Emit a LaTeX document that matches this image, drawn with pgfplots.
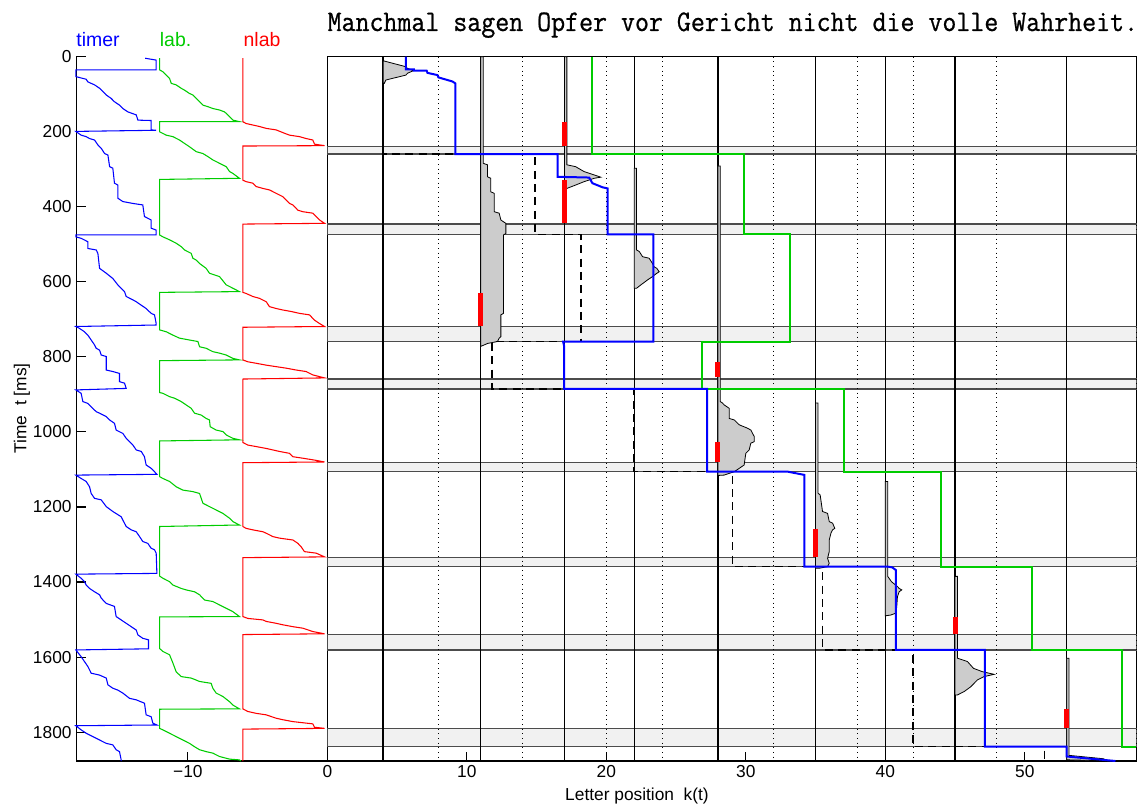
\documentclass[border=0pt]{standalone}
\usepackage{graphicx}
\usepackage{pgfplots}
\pgfplotsset{compat=1.18}
\usepackage{fontspec}
\setmainfont{Liberation Sans}
\newfontfamily\monofont[FakeBold=0.8]{Latin Modern Mono}
\definecolor{mgreen}{RGB}{0,204,0}
\definecolor{bandfill}{gray}{0.945}
\definecolor{bandedge}{gray}{0.3}
\definecolor{histfill}{gray}{0.8}

\begin{document}
\begin{tikzpicture}
\path[use as bounding box] (-57.2pt,-33pt) rectangle (799.3pt,570.75pt);

% ---------------- left panel: timer, labile and non-labile stages
\begin{axis}[
  at={(0,0)}, anchor=south west,
  scale only axis, width=188.3pt, height=528.2pt,
  xmin=-18, xmax=0, ymin=0, ymax=1877, y dir=reverse,
  axis x line*=bottom, axis y line*=left,
  axis line style={line width=0.9pt},
  tick align=inside, major tick length=7pt,
  tick style={line width=0.8pt, black},
  xtick={-10}, xticklabels={−10},
  ytick={0,200,400,600,800,1000,1200,1400,1600,1800},
  yticklabels={0,200,400,600,800,1000,1200,1400,1600,1800},
  tick label style={font=\fontsize{13}{15}\selectfont},
  clip=false,
]
% timer
\addplot[blue, line width=0.8pt] coordinates {
(-13.06,4) (-12.27,9) (-12.27,35) (-18.03,35)
(-18.03,53) (-17.29,60) (-17.17,67) (-16.69,75) (-16.33,84) (-16.09,93) (-15.85,102) (-15.5,111) (-15.26,120) (-14.9,129) (-14.66,138) (-14.3,147) (-13.7,155) (-13.58,169) (-12.63,170) (-12.63,195) (-12.27,196) (-18.03,199)
(-17.65,209) (-17.29,213) (-17.05,218) (-16.69,222) (-16.45,235) (-16.21,244) (-15.97,258) (-15.73,262) (-15.61,293) (-15.38,297) (-15.26,337) (-15.02,342) (-15.02,377) (-14.66,386) (-13.94,391) (-13.23,395) (-13.11,426) (-12.63,435) (-12.63,457) (-12.27,462) (-12.27,475) (-18.03,475)
(-18.03,480) (-17.65,484) (-17.17,493) (-17.17,511) (-16.57,515) (-16.45,524) (-16.33,564) (-15.85,577) (-15.38,591) (-15.02,608) (-14.54,626) (-14.42,639) (-13.94,648) (-13.7,653) (-13.35,662) (-12.99,671) (-12.63,684) (-12.39,688) (-12.27,711) (-12.27,715) (-18.03,719)
(-17.77,724) (-17.41,733) (-17.17,742) (-16.93,755) (-16.69,768) (-16.57,777) (-16.33,782) (-16.21,795) (-15.85,799) (-15.85,835) (-15.38,839) (-14.9,844) (-14.9,866) (-14.54,870) (-14.42,884) (-18.03,888)
(-17.65,897) (-17.53,919) (-17.17,924) (-16.93,933) (-16.57,946) (-16.33,950) (-15.85,959) (-15.61,968) (-15.26,977) (-15.14,995) (-14.66,1004) (-14.42,1017) (-14.18,1026) (-13.94,1035) (-13.7,1048) (-13.34,1052) (-13.11,1066) (-12.99,1088) (-12.63,1097) (-12.39,1106) (-12.22,1113) (-18.03,1115)
(-17.65,1124) (-17.29,1132) (-17.05,1146) (-16.93,1164) (-16.69,1177) (-16.21,1181) (-15.85,1199) (-15.38,1212) (-14.78,1226) (-14.66,1235) (-14.42,1252) (-14.06,1261) (-13.7,1266) (-13.46,1279) (-13.23,1292) (-12.87,1297) (-12.63,1310) (-12.39,1314) (-12.27,1323) (-12.22,1377) (-18.03,1379)
(-17.65,1390) (-17.41,1399) (-17.29,1408) (-17.05,1417) (-16.69,1426) (-16.33,1434) (-16.21,1443) (-15.85,1457) (-15.26,1465) (-15.14,1492) (-14.78,1501) (-14.42,1510) (-14.06,1519) (-13.7,1528) (-13.58,1541) (-13.23,1550) (-12.82,1554) (-12.82,1578) (-18.03,1581)
(-17.65,1599) (-17.41,1612) (-17.17,1625) (-16.93,1643) (-16.33,1648) (-15.85,1656) (-15.73,1674) (-15.38,1683) (-15.02,1688) (-14.66,1696) (-14.18,1710) (-13.7,1714) (-13.11,1723) (-12.99,1754) (-12.63,1759) (-12.51,1776) (-12.22,1781) (-18.03,1783)
(-17.65,1794) (-17.29,1803) (-16.81,1812) (-16.33,1821) (-15.85,1830) (-15.38,1834) (-15.14,1847) (-14.9,1852) (-14.78,1874) (-14.78,1877)
};
% labile stage
\addplot[mgreen, line width=0.8pt] coordinates {
(-12.03,4) (-12.03,35) (-11.79,40) (-11.31,58) (-11.19,71) (-10.84,75) (-10.48,84) (-10.24,89) (-9.88,98) (-9.64,102) (-9.16,120) (-8.92,129) (-8.57,133) (-8.21,138) (-7.73,142) (-7.37,147) (-7.13,155) (-6.77,169) (-6.3,173) (-12.03,173)
(-12.03,200) (-11.55,209) (-11.07,213) (-10.6,222) (-10.24,231) (-9.88,240) (-9.4,253) (-8.92,258) (-8.57,266) (-8.21,275) (-7.73,284) (-7.25,293) (-7.01,306) (-6.77,311) (-6.3,324) (-12.03,327)
(-12.03,475) (-11.79,480) (-11.31,488) (-10.84,497) (-10.48,506) (-10.24,515) (-9.76,524) (-9.64,537) (-9.4,542) (-9.16,551) (-8.69,564) (-8.45,577) (-7.73,586) (-7.25,608) (-6.77,617) (-6.3,626) (-12.03,628)
(-12.03,728) (-11.55,733) (-11.07,742) (-10.6,750) (-9.88,755) (-9.28,759) (-9.16,773) (-8.69,777) (-8.21,786) (-7.73,790) (-7.25,795) (-6.77,804) (-6.3,808) (-12.03,810)
(-12.03,895) (-11.79,897) (-11.31,906) (-10.96,910) (-10.48,919) (-10.12,928) (-9.76,937) (-9.52,950) (-9.04,955) (-8.69,964) (-8.45,968) (-8.4,986) (-7.97,995) (-7.49,999) (-7.25,1008) (-6.77,1017) (-6.3,1021) (-12.03,1024)
(-12.03,1119) (-11.79,1124) (-11.31,1132) (-10.84,1146) (-10.36,1155) (-9.64,1159) (-9.16,1164) (-8.92,1190) (-8.45,1199) (-7.97,1208) (-7.49,1217) (-7.01,1230) (-6.77,1239) (-6.3,1248) (-12.03,1252)
(-12.03,1384) (-11.79,1390) (-11.31,1399) (-11.07,1408) (-10.48,1417) (-10.12,1421) (-9.52,1426) (-9.16,1434) (-8.8,1448) (-8.21,1452) (-7.73,1461) (-7.25,1470) (-6.77,1479) (-6.3,1492) (-12.03,1493)
(-12.03,1577) (-11.79,1585) (-11.31,1594) (-11.07,1616) (-10.84,1639) (-10.48,1652) (-9.76,1656) (-9.16,1665) (-8.33,1670) (-8.21,1683) (-7.97,1696) (-7.49,1705) (-7.01,1719) (-6.77,1728) (-6.3,1738) (-12.03,1739)
(-12.03,1790) (-11.79,1794) (-11.31,1803) (-10.84,1812) (-10.36,1821) (-9.88,1830) (-9.52,1839) (-9.16,1847) (-8.69,1852) (-8.21,1856) (-7.73,1865) (-7.01,1872) (-6.3,1874) (-6.2,1877)
};
% non-labile stage
\addplot[red, line width=0.8pt] coordinates {
(-6.06,4) (-6.06,173) (-5.82,178) (-5.34,182) (-4.86,186) (-4.38,191) (-3.67,195) (-3.07,204) (-2.71,209) (-1.99,213) (-1.52,218) (-1.04,222) (-0.92,233) (-0.2,237) (-6.06,238)
(-6.06,329) (-5.82,333) (-5.34,337) (-5.1,346) (-4.62,351) (-4.15,355) (-3.67,364) (-3.19,373) (-2.95,382) (-2.71,391) (-2.47,395) (-2.11,409) (-1.76,413) (-1.04,417) (-0.56,435) (-0.2,444) (-6.06,446)
(-6.06,628) (-5.82,631) (-5.34,639) (-4.86,644) (-4.38,653) (-4.15,666) (-3.67,671) (-3.19,675) (-2.59,679) (-1.99,684) (-1.28,688) (-0.92,702) (-0.56,711) (-0.2,719) (-6.06,721)
(-6.06,808) (-5.7,813) (-5.1,817) (-4.38,822) (-3.67,826) (-2.95,830) (-2.23,835) (-1.52,839) (-1.04,848) (-0.2,856) (-6.06,859)
(-6.06,1028) (-5.7,1035) (-5.1,1039) (-4.38,1044) (-3.9,1048) (-3.43,1052) (-2.71,1057) (-2.47,1066) (-1.76,1070) (-0.92,1075) (-0.2,1080) (-6.06,1082)
(-6.06,1252) (-5.82,1257) (-5.34,1261) (-4.62,1266) (-4.38,1270) (-3.9,1279) (-3.43,1283) (-2.47,1288) (-2.11,1297) (-1.88,1306) (-1.64,1319) (-0.8,1323) (-0.2,1333) (-6.06,1335)
(-6.06,1492) (-5.7,1497) (-4.62,1501) (-4.38,1505) (-3.67,1510) (-3.19,1514) (-2.47,1519) (-1.76,1523) (-1.04,1532) (-0.2,1538) (-6.06,1540)
(-6.06,1738) (-5.7,1745) (-5.1,1750) (-4.38,1754) (-3.67,1763) (-3.19,1767) (-2.47,1772) (-1.76,1775) (-1.04,1778) (-0.92,1787) (-0.2,1790) (-6.06,1792)
(-6.06,1877)
};
\node[anchor=base, blue, font=\fontsize{14.6}{16}\selectfont, yshift=7.5pt] at (axis cs:-16.44,0) {timer};
\node[anchor=base, mgreen, font=\fontsize{14.6}{16}\selectfont, yshift=7.5pt] at (axis cs:-10.88,0) {lab.};
\node[anchor=base, red, font=\fontsize{14.6}{16}\selectfont, yshift=7.5pt] at (axis cs:-4.68,0) {nlab};
\node[rotate=90, anchor=center, font=\fontsize{13}{15}\selectfont] at (axis cs:-21.9,937) {Time\ \ t [ms]};
\end{axis}

% ---------------- right panel: letter position over time
\begin{axis}[
  at={(188.3pt,0)}, anchor=south west,
  scale only axis, width=606.8pt, height=528.2pt,
  xmin=0, xmax=58, ymin=0, ymax=1877, y dir=reverse,
  axis line style={line width=1pt},
  tick align=inside, major tick length=7pt,
  tick style={line width=0.8pt, black},
  xtick={0,10,20,30,40,50}, xticklabels={0,10,20,30,40,50},
  xtick pos=left, ytick=\empty,
  tick label style={font=\fontsize{13}{15}\selectfont},
  clip=false,
]
% saccade intervals
\addplot[fill=bandfill, draw=bandedge, line width=1pt] coordinates {(0,240) (58,240) (58,259.3) (0,259.3)} -- cycle;
\addplot[fill=bandfill, draw=bandedge, line width=1pt] coordinates {(0,446) (58,446) (58,473.3) (0,473.3)} -- cycle;
\addplot[fill=bandfill, draw=bandedge, line width=1pt] coordinates {(0,719) (58,719) (58,759.3) (0,759.3)} -- cycle;
\addplot[fill=bandfill, draw=bandedge, line width=1pt] coordinates {(0,859) (58,859) (58,885.4) (0,885.4)} -- cycle;
\addplot[fill=bandfill, draw=bandedge, line width=1pt] coordinates {(0,1082) (58,1082) (58,1105.7) (0,1105.7)} -- cycle;
\addplot[fill=bandfill, draw=bandedge, line width=1pt] coordinates {(0,1335) (58,1335) (58,1358.9) (0,1358.9)} -- cycle;
\addplot[fill=bandfill, draw=bandedge, line width=1pt] coordinates {(0,1539) (58,1539) (58,1581) (0,1581)} -- cycle;
\addplot[fill=bandfill, draw=bandedge, line width=1pt] coordinates {(0,1791) (58,1791) (58,1838.5) (0,1838.5)} -- cycle;
% word centres and word ends
\pgfplotsinvokeforeach{4,11,17,22,28,35,40,45,53}{
  \addplot[black, line width=1pt] coordinates {(#1,0) (#1,1877)};
}
\pgfplotsinvokeforeach{8,14,20,24,32,38,42,48,58}{
  \addplot[black, line width=0.7pt, dash pattern=on 0.7pt off 2.8pt] coordinates {(#1,0) (#1,1877)};
}
% fixation duration distributions
\addplot[fill=histfill, draw=black, line width=0.6pt] coordinates {
(4,9) (4.08,11.5) (5.63,26.6) (5.75,31) (6.18,37) (5.75,44) (5.63,49) (4.2,62) (4.08,71) (4,71)} -- cycle;
\addplot[fill=histfill, draw=black, line width=0.6pt] coordinates {
(11,0) (11.17,0) (11.17,284) (11.48,288) (11.48,320) (11.72,324) (11.72,360) (11.96,364) (11.96,413) (12.32,417) (12.44,435) (12.63,440) (12.8,444) (12.8,471) (12.63,475) (12.63,684) (12.44,688) (12.44,746) (12.32,750) (12.2,759) (11.5,764) (11,772)} -- cycle;
\addplot[fill=histfill, draw=black, line width=0.6pt] coordinates {
(17,0) (17.17,0) (17.17,288) (17.8,293) (18.4,306) (19.13,315) (19.6,321) (19.13,324) (18.4,333) (17.8,342) (17.17,351) (17,351)} -- cycle;
\addplot[fill=histfill, draw=black, line width=0.6pt] coordinates {
(22,297) (22.17,297) (22.17,515) (22.36,519) (22.6,533) (23.07,537) (23.31,551) (23.43,560) (23.62,564) (23.79,573) (23.55,579) (23.31,586) (22.95,595) (22.48,608) (22.17,617) (22,617)} -- cycle;
\addplot[fill=histfill, draw=black, line width=0.6pt] coordinates {
(28,291) (28.17,291) (28.17,919) (28.33,923) (28.45,928) (28.81,937) (28.81,964) (29.17,968) (29.53,981) (30.12,990) (30.36,995) (30.6,1012) (30.6,1026) (30.36,1030) (30.24,1048) (30.0,1057) (29.88,1088) (29.53,1097) (29.17,1106) (28.45,1115) (28,1116)} -- cycle;
\addplot[fill=histfill, draw=black, line width=0.6pt] coordinates {
(35,923) (35.17,923) (35.17,1163) (35.33,1168) (35.5,1212) (35.86,1217) (35.98,1239) (36.22,1243) (36.38,1257) (36.22,1261) (36.1,1270) (35.98,1288) (35.98,1319) (35.86,1337) (35.98,1350) (35.86,1359) (35.3,1363) (35,1363)} -- cycle;
\addplot[fill=histfill, draw=black, line width=0.6pt] coordinates {
(40,1132) (40.17,1132) (40.17,1385) (40.27,1390) (40.44,1399) (40.87,1412) (40.99,1417) (41.18,1421) (40.99,1426) (40.87,1439) (40.82,1466) (40.75,1483) (40.39,1488) (40,1490)} -- cycle;
\addplot[fill=histfill, draw=black, line width=0.6pt] coordinates {
(45,1385) (45.17,1385) (45.17,1603) (45.89,1612) (46.32,1630) (46.96,1639) (47.8,1646) (47.08,1652) (46.6,1661) (46.13,1679) (45.65,1692) (45.17,1701) (45,1701)} -- cycle;
\addplot[fill=histfill, draw=black, line width=0.6pt] coordinates {
(53,1603) (53.17,1603) (53.17,1862) (55.64,1871) (55.5,1876) (53.17,1874) (53,1874)} -- cycle;
% eye position
\addplot[black, line width=1.2pt, dash pattern=on 6pt off 4pt] coordinates {
(3.96,0) (3.96,259.3) (14.9,259.3) (14.9,473.3) (18.17,473.3) (18.17,759.3) (11.8,759.3) (11.8,885.4) (22.0,885.4) (22.0,1105.7) (29.05,1105.7) (29.05,1358.9) (35.5,1358.9) (35.5,1581) (42.0,1581) (42.0,1838.5) (51.4,1838.5) (51.4,1877)};
% saccade target of the labile stage
\addplot[mgreen, line width=1.5pt] coordinates {
(18.96,0) (18.96,259.3) (29.88,259.3) (29.88,473.3) (33.18,473.3) (33.18,759.3) (26.85,759.3) (26.85,885.4) (37.05,885.4) (37.05,1105.7) (44.02,1105.7) (44.02,1358.9) (50.48,1358.9) (50.48,1581) (57.0,1581) (57.0,1838.5) (58,1838.5)};
% attention position k(t)
\addplot[blue, line width=1.5pt] coordinates {
(5.63,0) (5.63,34) (6.2,34) (6.2,37) (7.12,37) (7.18,43) (7.9,49) (7.96,55) (8.97,66) (9.17,71) (9.17,259.3) (16.5,259.3) (16.5,320) (18.77,322) (19.0,337) (19.73,348) (20.09,351) (20.09,473.3) (23.38,473.3) (23.38,759.3) (16.9,759.3) (16.97,770) (16.97,885.4) (27.22,885.4) (27.22,1105.7) (32.99,1105.7) (34.2,1114.6) (34.2,1358.9) (40.16,1358.9) (40.5,1361) (40.75,1368) (40.75,1581) (47.13,1581) (47.13,1838.5) (53.0,1838.5) (53.0,1865) (56.5,1877)};
% non-labile stage periods
\addplot[red, line width=3.8pt] coordinates {(17,173) (17,237)};
\addplot[red, line width=3.8pt] coordinates {(17,329) (17,444)};
\addplot[red, line width=3.8pt] coordinates {(11,630) (11,718)};
\addplot[red, line width=3.8pt] coordinates {(28,813) (28,853)};
\addplot[red, line width=3.8pt] coordinates {(28,1026) (28,1079)};
\addplot[red, line width=3.8pt] coordinates {(35,1258) (35,1332)};
\addplot[red, line width=3.8pt] coordinates {(45,1492) (45,1539)};
\addplot[red, line width=3.8pt] coordinates {(53,1738) (53,1790)};
\node[anchor=base west, inner sep=0pt, font=\monofont\fontsize{20.35}{22}\selectfont, yshift=19.3pt] at (axis cs:0,0) {\scalebox{1}[1.1]{Manchmal sagen Opfer vor Gericht nicht die volle Wahrheit.}};
\node[anchor=base, font=\fontsize{13}{15}\selectfont, yshift=-29.3pt] at (axis cs:22.2,1877) {Letter position\ \ k(t)};
\end{axis}
\end{tikzpicture}
\end{document}
